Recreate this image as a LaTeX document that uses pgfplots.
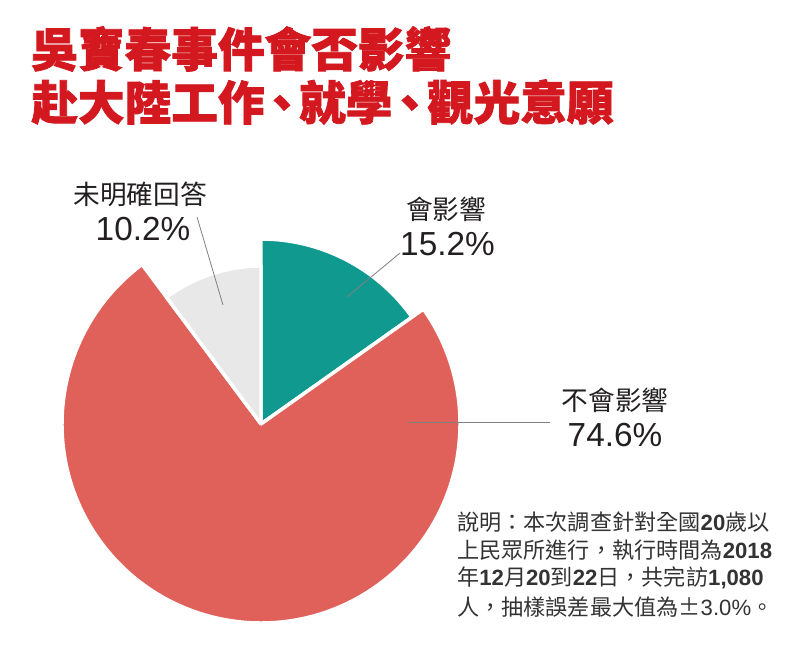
\documentclass[border=0pt]{standalone}
\usepackage{pgfplots}
\pgfplotsset{compat=1.18}
\usepackage{pgfplotstable}
\usepackage{fontspec}
\setmainfont{Liberation Sans}
\newfontfamily\cjk{Noto Sans CJK TC}
\newfontfamily\cjkheavy{Noto Sans CJK TC}[BoldFeatures={FakeBold=1.6}]
\definecolor{titlered}{HTML}{D3181F}
\definecolor{slice0}{HTML}{109A8F}
\definecolor{slice1}{HTML}{E0605A}
\definecolor{slice2}{HTML}{E8E8E9}
\definecolor{txt}{HTML}{231F20}
\definecolor{notetxt}{HTML}{333333}
\newcommand\dg[1]{{\rmfamily\bfseries #1}}
\newcommand\dun{\hspace{-0.13em}、\hspace{-0.13em}}
% share of answers (%), radius of each slice (px)
\pgfplotstableread{
pct r
15.2 185
74.6 199
10.2 158
}\pietable
\begin{document}
\begin{tikzpicture}
\begin{axis}[scale only axis, width=600pt, height=497.25pt,
  xmin=0, xmax=800, ymin=0, ymax=663, hide axis, clip=false]
\path (axis cs:0,0) rectangle (axis cs:800,663);
\def\cumangle{90}
\pgfplotsforeachungrouped \i in {0,1,2}{%
  \pgfplotstablegetelem{\i}{pct}\of\pietable \let\pct\pgfplotsretval
  \pgfplotstablegetelem{\i}{r}\of\pietable \let\rad\pgfplotsretval
  \pgfmathsetmacro\endangle{\cumangle-3.6*\pct}%
  \pgfmathsetmacro\radpt{0.75*\rad}%
  \edef\temp{\noexpand\filldraw[fill=slice\i, draw=white, line width=2.6pt, line join=round] (axis cs:261,239) -- ++(\cumangle:\radpt pt) arc[start angle=\cumangle, end angle=\endangle, radius=\radpt pt] -- cycle;}%
  \temp
  \global\let\cumangle\endangle
}
% leader lines
\addplot[draw=gray, line width=0.6pt] coordinates {(347,366) (400,410)};
\addplot[draw=gray, line width=0.6pt] coordinates {(197,446) (223,358)};
\addplot[draw=gray, line width=0.6pt] coordinates {(408,241) (550,241)};
% title
\node[anchor=west, inner sep=0, text=titlered, font=\cjkheavy\bfseries\fontsize{35}{40}\selectfont] at (axis cs:31,614) {吳寶春事件會否影響};
\node[anchor=west, inner sep=0, text=titlered, font=\cjkheavy\bfseries\fontsize{35}{40}\selectfont] at (axis cs:31,561) {赴大陸工作\dun 就學\dun 觀光意願};
% labels
\node[inner sep=0, text=txt, font=\cjk\fontsize{20}{24}\selectfont] at (axis cs:140,469) {未明確回答};
\node[inner sep=0, text=txt, font=\fontsize{25}{30}\selectfont] at (axis cs:143,433.5) {10.2\%};
\node[inner sep=0, text=txt, font=\cjk\fontsize{20}{24}\selectfont] at (axis cs:446,454) {會影響};
\node[inner sep=0, text=txt, font=\fontsize{25}{30}\selectfont] at (axis cs:447.5,418.5) {15.2\%};
\node[inner sep=0, text=txt, font=\cjk\fontsize{20}{24}\selectfont] at (axis cs:615,262.5) {不會影響};
\node[inner sep=0, text=txt, font=\fontsize{25}{30}\selectfont] at (axis cs:615,228) {74.6\%};
% note
\node[anchor=west, inner sep=0, text=notetxt, font=\cjk\fontsize{16.6}{20}\selectfont] at (axis cs:457,141) {說明：本次調查針對全國\dg{20}歲以};
\node[anchor=west, inner sep=0, text=notetxt, font=\cjk\fontsize{16.6}{20}\selectfont] at (axis cs:457,113) {上民眾所進行，執行時間為\dg{2018}};
\node[anchor=west, inner sep=0, text=notetxt, font=\cjk\fontsize{16.6}{20}\selectfont] at (axis cs:457,85) {年\dg{12}月\dg{20}到\dg{22}日，共完訪\dg{1,080}};
\node[anchor=west, inner sep=0, text=notetxt, font=\cjk\fontsize{16.6}{20}\selectfont] at (axis cs:457,56) {人，抽樣誤差最大值為±{\rmfamily 3.0\%}。};
\end{axis}
\end{tikzpicture}
\end{document}
